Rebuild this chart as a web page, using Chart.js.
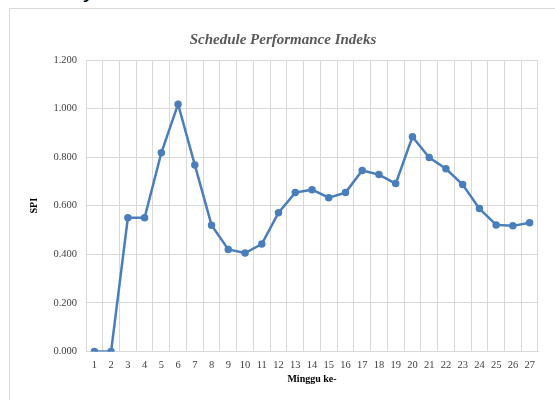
<!DOCTYPE html>
<html>
<head>
<meta charset="utf-8">
<script src="https://cdn.jsdelivr.net/npm/chart.js@4"></script>
<style>
    html, body { margin: 0; padding: 0; background: #fff; }
    body { width: 555px; height: 400px; position: relative; overflow: hidden; }
    #frame {
        position: absolute; left: 9px; top: 8px; width: 560px; height: 400px;
        border: 1px solid #d9d9d9; box-sizing: border-box;
    }
    #top-y {
        position: absolute; left: 82px; top: -22px;
        font-family: "DejaVu Sans", sans-serif; font-size: 22px; color: #000;
    }
    #wrap { position: absolute; left: 0; top: 0; width: 555px; height: 400px; }
</style>
</head>
<body>
<div id="frame"></div>
<div id="top-y">y</div>
<div id="wrap"><canvas id="spiChart"></canvas></div>
<script>
const weeks = ["1","2","3","4","5","6","7","8","9","10","11","12","13","14","15","16","17","18","19","20","21","22","23","24","25","26","27"];
const spiValues = [0.000, 0.000, 0.550, 0.550, 0.818, 1.018, 0.768, 0.520, 0.420, 0.405, 0.442, 0.571, 0.654, 0.666, 0.633, 0.654, 0.745, 0.728, 0.691, 0.884, 0.798, 0.752, 0.687, 0.588, 0.521, 0.517, 0.530];
const yTicks = [0, 0.2, 0.4, 0.6, 0.8, 1.0, 1.2];

const serif = "'Liberation Serif', 'Times New Roman', serif";
const gridColor = "#d9d9d9";
const lineColor = "#4a7ebb";

const ctx = document.getElementById("spiChart").getContext("2d");

new Chart(ctx, {
    type: "line",
    data: {
        labels: weeks,
        datasets: [{
            label: "SPI",
            data: spiValues,
            borderColor: lineColor,
            backgroundColor: lineColor,
            borderWidth: 2.5,
            tension: 0,
            fill: false,
            pointRadius: 2.5,
            pointBackgroundColor: lineColor,
            pointBorderColor: lineColor
        }]
    },
    options: {
        responsive: true,
        maintainAspectRatio: false,
        animation: false,
        layout: { padding: { left: 28, right: 17, top: 0, bottom: 15 } },
        plugins: {
            legend: { display: false },
            tooltip: { enabled: false },
            title: {
                display: true,
                text: "Schedule Performance Indeks",
                color: "#595959",
                font: { family: serif, size: 15, weight: "bold", style: "italic" },
                padding: { top: 31, bottom: 11 }
            }
        },
        scales: {
            x: {
                offset: true,
                grid: { color: gridColor, offset: true, drawTicks: false },
                border: { color: gridColor },
                ticks: {
                    color: "#404040",
                    font: { family: serif, size: 10.5 },
                    padding: 8,
                    maxRotation: 0,
                    autoSkip: false
                },
                title: {
                    display: true,
                    text: "Minggu ke-",
                    color: "#000",
                    font: { family: serif, size: 10, weight: "bold" },
                    padding: { top: -7, bottom: 0 }
                }
            },
            y: {
                min: 0,
                max: 1.2,
                afterBuildTicks: (scale) => {
                    scale.ticks = yTicks.map(v => ({ value: v }));
                },
                afterFit: (scale) => { scale.width = 58; },
                grid: { color: gridColor, drawTicks: false },
                border: { color: gridColor },
                ticks: {
                    color: "#404040",
                    font: { family: serif, size: 10.5 },
                    padding: 9,
                    callback: (v) => Number(v).toFixed(3)
                },
                title: {
                    display: true,
                    text: "SPI",
                    color: "#000",
                    font: { family: serif, size: 10, weight: "bold" },
                    padding: 0
                }
            }
        }
    }
});
</script>
</body>
</html>
